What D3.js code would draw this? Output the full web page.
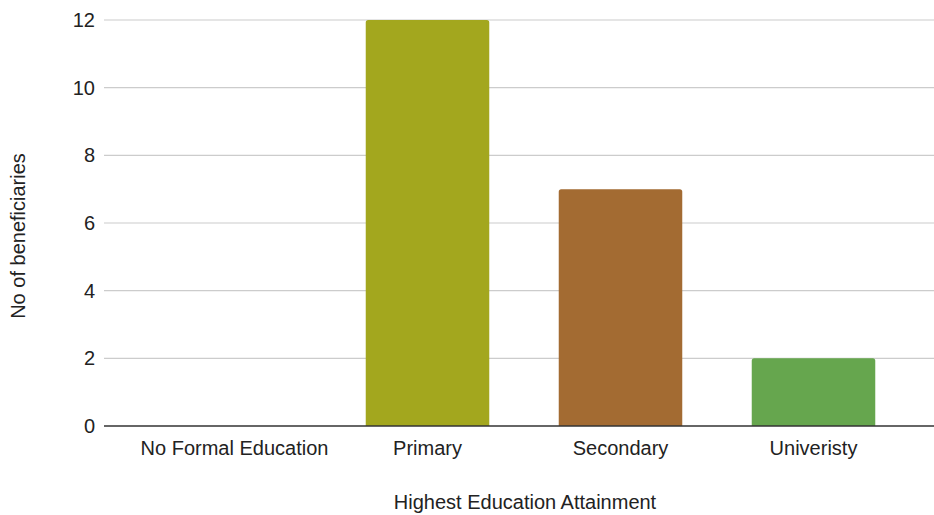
<!DOCTYPE html>
<html>
<head>
<meta charset="utf-8">
<script src="https://cdn.jsdelivr.net/npm/d3@7"></script>
<style>
  html, body { margin: 0; padding: 0; background: #fff; }
  svg { display: block; font-family: "Liberation Sans", Arial, sans-serif; }
</style>
</head>
<body>
<svg id="chart" width="934" height="515"></svg>
<script>
// Beneficiaries by highest education attained
const categories = ["No Formal Education", "Primary", "Secondary", "Univeristy"];
const beneficiaries = [0, 12, 7, 2];
const barColors = ["#a3a71e", "#a3a71e", "#a36b32", "#66a64e"];
const yTicks = [0, 2, 4, 6, 8, 10, 12];

const svg = d3.select("#chart");
const plot = { left: 104, right: 934, top: 20, bottom: 426 };
const fontSize = 20;

const x = d3.scaleBand()
  .domain(categories)
  .range([138, 910])
  .paddingInner(0.36)
  .paddingOuter(0.18);

const y = d3.scaleLinear()
  .domain([0, 12])
  .range([plot.bottom, plot.top]);

// horizontal gridlines
svg.append("g")
  .selectAll("line")
  .data(yTicks.filter(d => d !== 0))
  .join("line")
  .attr("x1", plot.left).attr("x2", plot.right)
  .attr("y1", d => y(d)).attr("y2", d => y(d))
  .attr("stroke", "#cccccc").attr("stroke-width", 1.2);

// y tick labels
svg.append("g")
  .selectAll("text")
  .data(yTicks)
  .join("text")
  .attr("x", 95)
  .attr("y", d => y(d))
  .attr("dy", "0.35em")
  .attr("text-anchor", "end")
  .attr("font-size", fontSize)
  .attr("fill", "#222")
  .text(d => d);

// bars with slightly rounded tops
const r = 2.5;
svg.append("g")
  .selectAll("path")
  .data(categories.map((c, i) => ({ c, v: beneficiaries[i], color: barColors[i] })))
  .join("path")
  .attr("fill", d => d.color)
  .attr("d", d => {
    const x0 = x(d.c), w = x.bandwidth();
    const y0 = y(d.v), y1 = y(0);
    const h = y1 - y0;
    if (h <= 0) return "";
    const rr = Math.min(r, h);
    return `M${x0},${y1}V${y0 + rr}Q${x0},${y0} ${x0 + rr},${y0}H${x0 + w - rr}Q${x0 + w},${y0} ${x0 + w},${y0 + rr}V${y1}Z`;
  });

// baseline
svg.append("line")
  .attr("x1", plot.left).attr("x2", plot.right)
  .attr("y1", y(0)).attr("y2", y(0))
  .attr("stroke", "#333").attr("stroke-width", 1.5);

// category labels
svg.append("g")
  .selectAll("text")
  .data(categories)
  .join("text")
  .attr("x", d => x(d) + x.bandwidth() / 2)
  .attr("y", 455)
  .attr("text-anchor", "middle")
  .attr("font-size", fontSize)
  .attr("fill", "#222")
  .text(d => d);

// axis titles
svg.append("text")
  .attr("x", 525).attr("y", 509)
  .attr("text-anchor", "middle")
  .attr("font-size", fontSize)
  .attr("fill", "#222")
  .text("Highest Education Attainment");

svg.append("text")
  .attr("transform", "translate(25,236) rotate(-90)")
  .attr("text-anchor", "middle")
  .attr("font-size", fontSize)
  .attr("fill", "#222")
  .text("No of beneficiaries");
</script>
</body>
</html>
